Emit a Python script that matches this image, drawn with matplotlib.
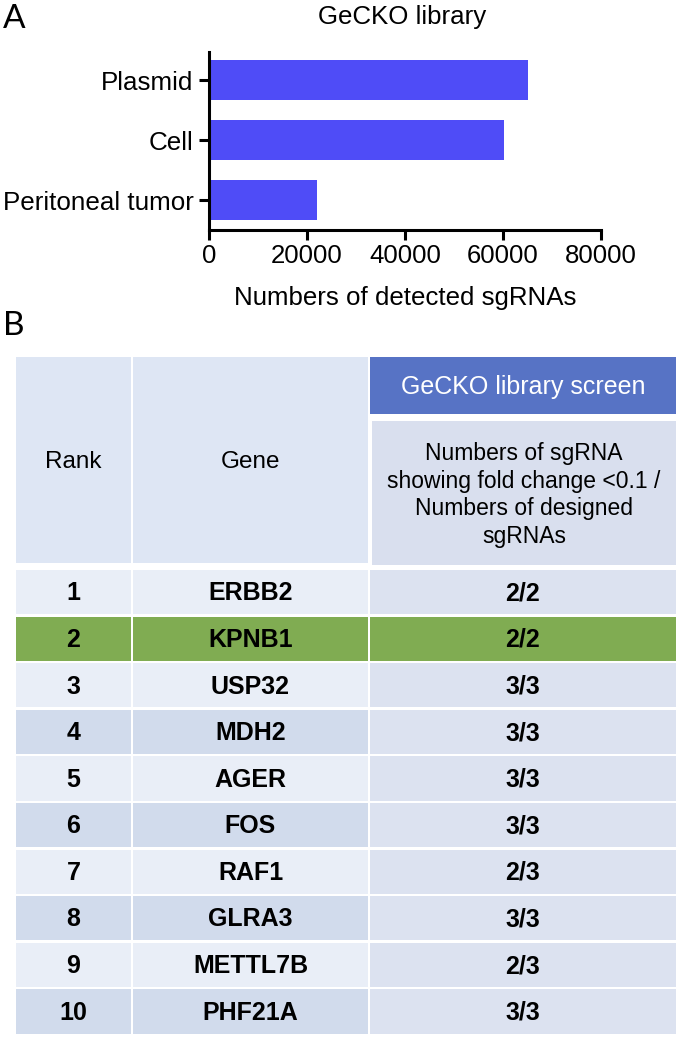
import matplotlib
matplotlib.use("Agg")
import matplotlib.pyplot as plt
from matplotlib.patches import Rectangle

# ---- data ----
samples = ["Plasmid", "Cell", "Peritoneal tumor"]
detected = [65000, 60200, 22100]
xticks = [0, 20000, 40000, 60000, 80000]

ranks = ["1", "2", "3", "4", "5", "6", "7", "8", "9", "10"]
genes = ["ERBB2", "KPNB1", "USP32", "MDH2", "AGER", "FOS", "RAF1", "GLRA3", "METTL7B", "PHF21A"]
ratios = ["2/2", "2/2", "3/3", "3/3", "3/3", "3/3", "2/3", "3/3", "2/3", "3/3"]
highlight = "KPNB1"

W, H = 677, 1037
plt.rcParams['font.family'] = ['Liberation Sans', 'DejaVu Sans']
fig = plt.figure(figsize=(W / 100, H / 100), dpi=100)

# ---- Panel A ----
ax_l, ax_r, ax_t, ax_b = 209, 601, 52, 230
ax = fig.add_axes([ax_l / W, 1 - ax_b / H, (ax_r - ax_l) / W, (ax_b - ax_t) / H])
ypos = list(range(len(samples)))
ax.barh(ypos, detected, height=0.667, color="#4F4CF7", edgecolor="none")
ax.set_xlim(0, 80000)
ax.set_ylim(2.5, -0.47)
ax.set_yticks(ypos)
ax.set_yticklabels(samples, fontsize=18.7)
ax.set_xticks(xticks)
ax.set_xticklabels([str(v) for v in xticks], fontsize=18.5)
for s in ["top", "right"]:
    ax.spines[s].set_visible(False)
for s in ["left", "bottom"]:
    ax.spines[s].set_linewidth(2.2)
ax.tick_params(axis="both", width=2.2, length=7, pad=4, colors="black")
ax.tick_params(axis="x", pad=3)
ax.set_xlabel("Numbers of detected sgRNAs", fontsize=18.6, labelpad=13)
fig.text(402 / W, 1 - 17 / H, "GeCKO library", fontsize=18.6, ha="center", va="center")

fig.text(3 / W, 1 - 19 / H, "A", fontsize=24, ha="left", va="center", family=["Lato", "DejaVu Sans"])
fig.text(3 / W, 1 - 326 / H, "B", fontsize=24, ha="left", va="center", family=["Lato", "DejaVu Sans"])

# ---- Panel B (table) ----
tx = fig.add_axes([0, 0, 1, 1])
tx.set_xlim(0, W)
tx.set_ylim(H, 0)
tx.axis("off")

col_edges = [(16, 131), (133, 368), (370, 676)]
hdr_top, hdr_bot = 357, 563
light_cell = "#DEE6F4"
row_light = "#E9EEF7"
row_dark = "#D1DBEC"
col3_bg = "#DCE2F0"
green = "#80AC52"

# Header
for (x0, x1), label in zip(col_edges[:2], ["Rank", "Gene"]):
    tx.add_patch(Rectangle((x0, hdr_top), x1 - x0, hdr_bot - hdr_top, color=light_cell, lw=0))
    tx.text((x0 + x1) / 2, (hdr_top + hdr_bot) / 2 + 2, label, fontsize=17.5, ha="center", va="center")
x0, x1 = col_edges[2]
tx.add_patch(Rectangle((x0, hdr_top), x1 - x0, 414 - hdr_top, color="#5773C5", lw=0))
tx.text((x0 + x1) / 2, 387, "GeCKO library screen", fontsize=18, color="white",
        ha="center", va="center")
tx.add_patch(Rectangle((x0 + 2, 421), x1 - x0 - 2, 565 - 421, color="#D9DFEE", lw=0))
tx.text((x0 + x1) / 2 + 1, 495,
        "Numbers of sgRNA\nshowing fold change <0.1 /\nNumbers of designed\nsgRNAs",
        fontsize=16.5, ha="center", va="center", linespacing=1.25)

# Rows
row_top, row_bot = 569, 1035
rh = (row_bot - row_top) / len(ranks)
for i, (r, g, q) in enumerate(zip(ranks, genes, ratios)):
    y0 = row_top + i * rh
    if g == highlight:
        bgs = [green, green, green]
    else:
        c12 = row_light if i % 2 == 0 else row_dark
        bgs = [c12, c12, col3_bg]
    for (cx0, cx1), bg, txt in zip(col_edges, bgs, [r, g, q]):
        tx.add_patch(Rectangle((cx0, y0 + 1), cx1 - cx0, rh - 2.5, color=bg, lw=0))
        tx.text((cx0 + cx1) / 2, y0 + rh / 2 + 1, txt, fontsize=18, fontweight="bold",
                ha="center", va="center")

fig.savefig("out.png", dpi=100)
